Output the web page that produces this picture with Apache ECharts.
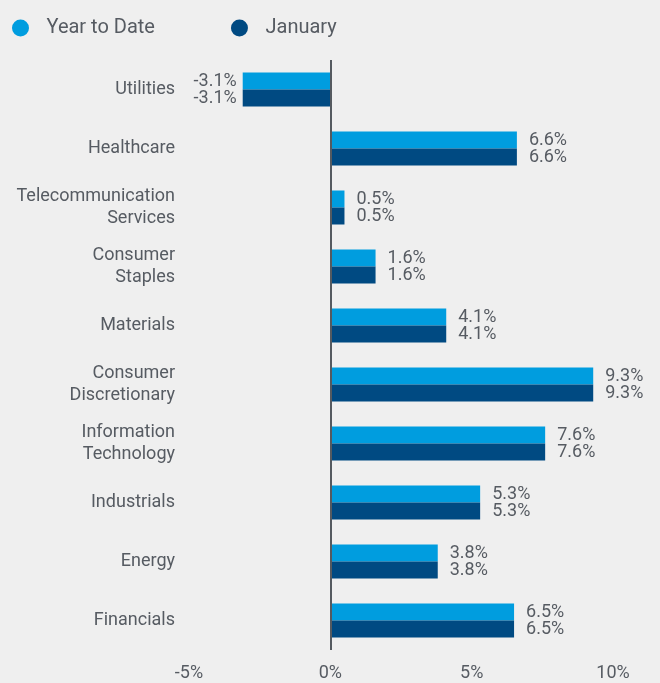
<!DOCTYPE html>
<html>
<head>
<meta charset="utf-8">
<script src="https://cdn.jsdelivr.net/npm/echarts@6/dist/echarts.min.js"></script>
<style>
    html, body { margin: 0; padding: 0; background: #efefef; }
    #main { width: 660px; height: 683px; }
</style>
</head>
<body>
<div id="main"></div>
<script>
    // 数据
    var categories = ['Utilities', 'Healthcare', 'Telecommunication\nServices', 'Consumer\nStaples', 'Materials',
        'Consumer\nDiscretionary', 'Information\nTechnology', 'Industrials', 'Energy', 'Financials'];
    var ytdValues = [-3.1, 6.6, 0.5, 1.6, 4.1, 9.3, 7.6, 5.3, 3.8, 6.5];
    var janValues = [-3.1, 6.6, 0.5, 1.6, 4.1, 9.3, 7.6, 5.3, 3.8, 6.5];
    var axisMin = -5, axisMax = 10, axisStep = 5;

    var fontName = 'Roboto, sans-serif';
    var textColor = '#565b62';

    function toData(arr) {
        return arr.map(function (v) {
            return {
                value: v,
                label: { position: v < 0 ? 'left' : 'right', distance: v < 0 ? 6 : 12 }
            };
        });
    }

    var myChart = echarts.init(document.getElementById('main'));
    myChart.setOption({
        backgroundColor: '#efefef',
        textStyle: { fontFamily: fontName },
        legend: {
            left: 7,
            top: 13,
            icon: 'circle',
            itemWidth: 34,
            itemHeight: 17,
            itemGap: 76,
            textStyle: { color: textColor, fontSize: 20, fontFamily: fontName, padding: [0, 0, 0, 4] },
            data: ['Year to Date', 'January']
        },
        grid: { left: 189, right: 47, top: 60, bottom: 33 },
        xAxis: {
            type: 'value',
            min: axisMin,
            max: axisMax,
            interval: axisStep,
            axisLine: { show: false },
            axisTick: { show: false },
            splitLine: { show: false },
            axisLabel: {
                formatter: '{value}%',
                color: textColor,
                fontSize: 18,
                margin: 14,
                fontFamily: fontName
            }
        },
        yAxis: {
            type: 'category',
            inverse: true,
            data: categories,
            axisLine: { show: false },
            axisTick: { show: false },
            axisLabel: {
                color: textColor,
                fontSize: 18,
                lineHeight: 22,
                margin: 14,
                fontFamily: fontName
            }
        },
        series: [{
            name: 'Year to Date',
            type: 'bar',
            barWidth: 17,
            barGap: '0%',
            itemStyle: { color: '#009ddf' },
            label: {
                show: true,
                formatter: '{c}%',
                color: textColor,
                fontSize: 18,
                fontFamily: fontName
            },
            markLine: {
                symbol: 'none',
                silent: true,
                label: { show: false },
                lineStyle: { color: '#555a60', width: 2, type: 'solid' },
                data: [{ xAxis: 0 }]
            },
            data: toData(ytdValues)
        }, {
            name: 'January',
            type: 'bar',
            barWidth: 17,
            itemStyle: { color: '#004a82' },
            label: {
                show: true,
                formatter: '{c}%',
                color: textColor,
                fontSize: 18,
                fontFamily: fontName
            },
            data: toData(janValues)
        }]
    });
</script>
</body>
</html>
